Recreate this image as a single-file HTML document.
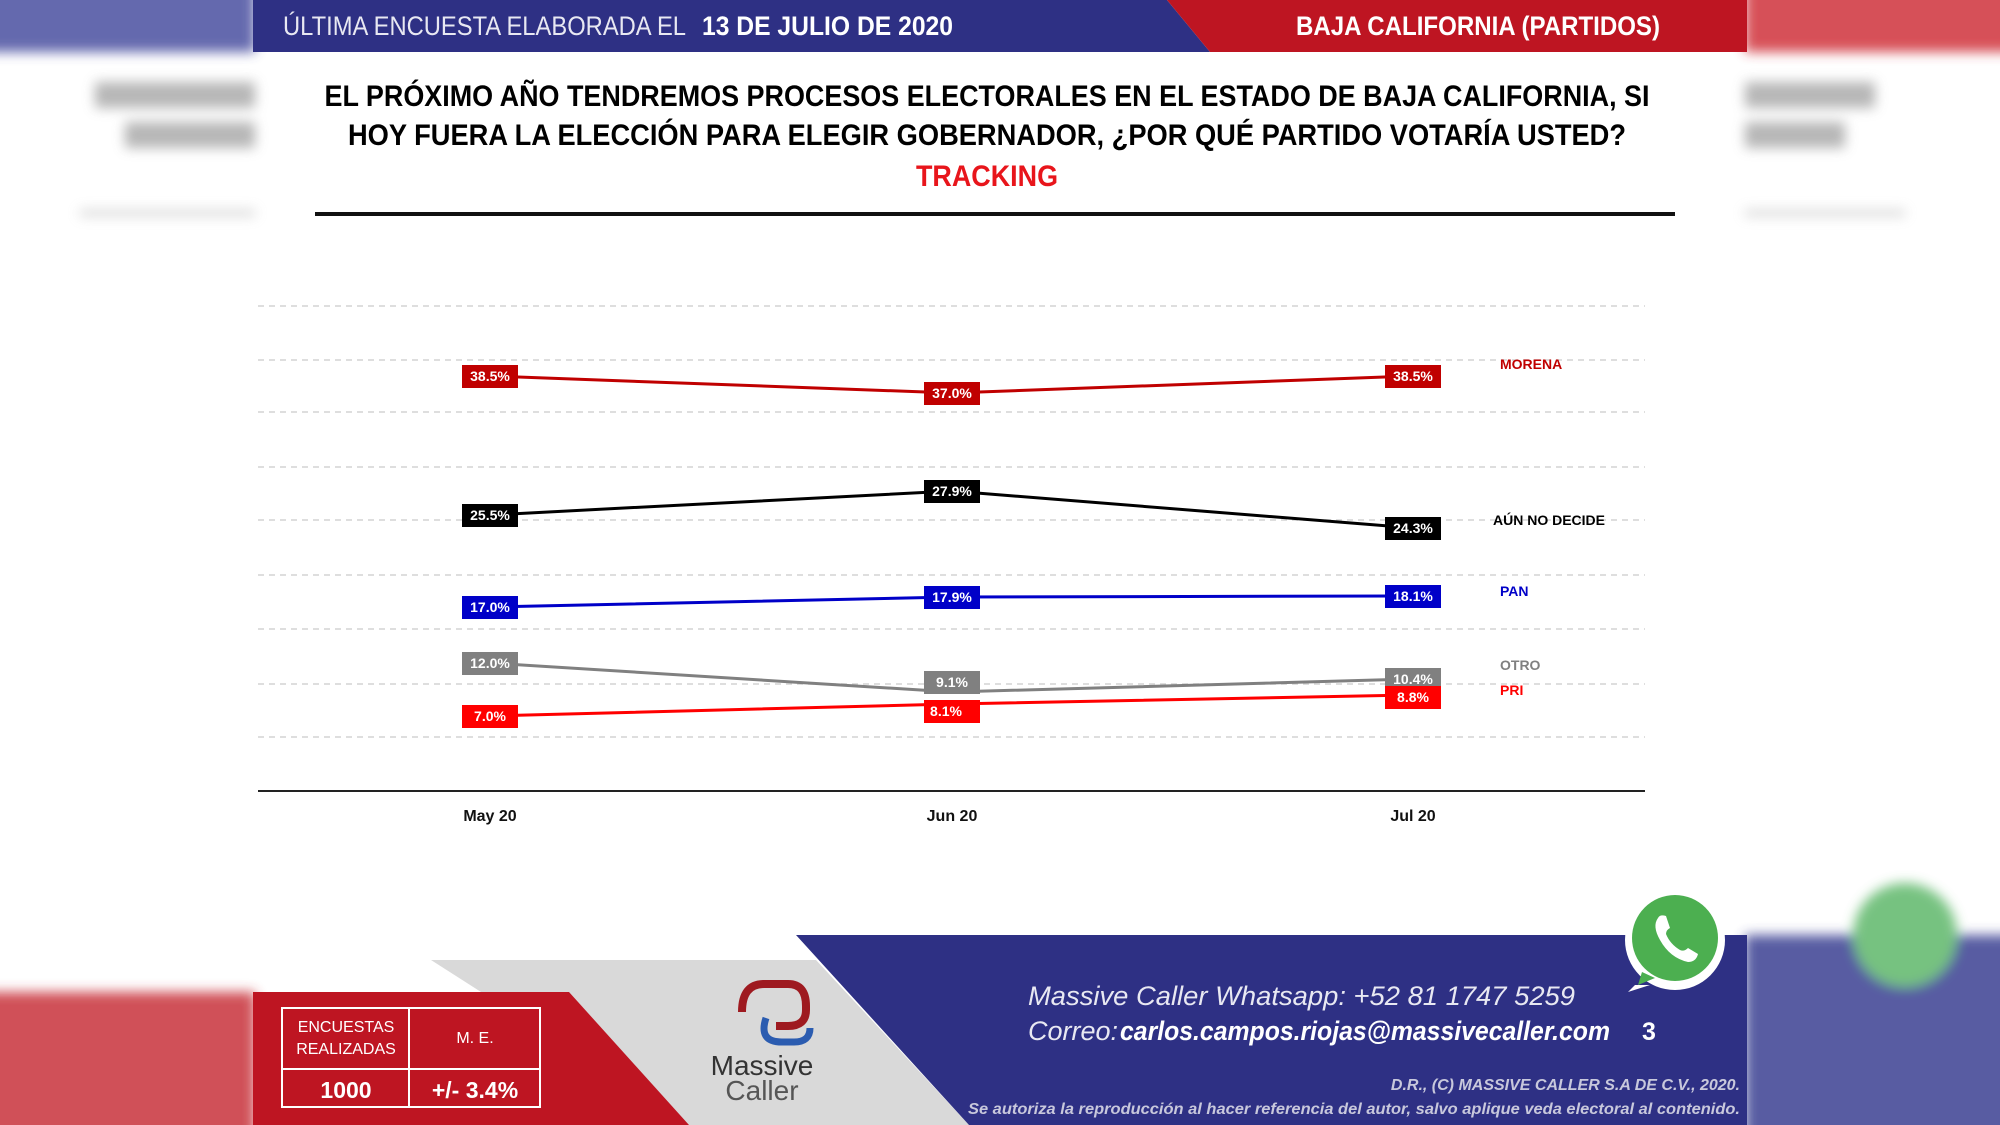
<!DOCTYPE html>
<html><head><meta charset="utf-8"><style>
html,body{margin:0;padding:0;background:#fff}
svg{display:block}
text{font-family:"Liberation Sans",sans-serif}
</style></head><body>
<svg width="2000" height="1125" viewBox="0 0 2000 1125" xmlns="http://www.w3.org/2000/svg">
<defs>
<filter id="bl"><feGaussianBlur stdDeviation="6"/></filter>
</defs>
<rect width="2000" height="1125" fill="#fff"/>
<g filter="url(#bl)" opacity="0.85">
<rect x="-20" y="-20" width="275" height="72" fill="#4a50a0"/>
<rect x="-20" y="992" width="275" height="160" fill="#c8303a"/>
<rect x="1745" y="-20" width="280" height="72" fill="#d0303a"/>
<rect x="1745" y="935" width="280" height="210" fill="#3a3f92"/>
<rect x="95" y="82" width="160" height="26" fill="#aaa"/>
<rect x="125" y="122" width="130" height="26" fill="#aaa"/>
<rect x="1745" y="82" width="130" height="26" fill="#aaa"/>
<rect x="1745" y="122" width="100" height="26" fill="#aaa"/>
<rect x="80" y="210" width="175" height="6" fill="#ccc"/>
<rect x="1745" y="210" width="160" height="6" fill="#ccc"/>
<circle cx="1905" cy="935" r="52" fill="#5fb86a"/>
</g>
<polygon points="253,0 1167,0 1210,52 253,52" fill="#2e3084"/>
<polygon points="1167,0 1747,0 1747,52 1210,52" fill="#be1522"/>
<text x="283" y="35" font-size="27" fill="#e8e8f2" textLength="403" lengthAdjust="spacingAndGlyphs">ÚLTIMA ENCUESTA ELABORADA EL</text>
<text x="702" y="35" font-size="27" font-weight="bold" fill="#fff" textLength="251" lengthAdjust="spacingAndGlyphs">13 DE JULIO DE 2020</text>
<text x="1296" y="35" font-size="27" font-weight="bold" fill="#fff" textLength="364" lengthAdjust="spacingAndGlyphs">BAJA CALIFORNIA (PARTIDOS)</text>
<g font-weight="bold" font-size="30" text-anchor="middle">
<text x="987" y="106" fill="#000" textLength="1325" lengthAdjust="spacingAndGlyphs">EL PRÓXIMO AÑO TENDREMOS PROCESOS ELECTORALES EN EL ESTADO DE BAJA CALIFORNIA, SI</text>
<text x="987" y="145" fill="#000" textLength="1278" lengthAdjust="spacingAndGlyphs">HOY FUERA LA ELECCIÓN PARA ELEGIR GOBERNADOR, ¿POR QUÉ PARTIDO VOTARÍA USTED?</text>
<text x="987" y="186" fill="#e8151b" textLength="142" lengthAdjust="spacingAndGlyphs">TRACKING</text>
</g>
<rect x="315" y="212" width="1360" height="4" fill="#111"/>
<g stroke="#d4d4d4" stroke-width="1.5" stroke-dasharray="6,5">
<line x1="258" x2="1645" y1="306" y2="306"/><line x1="258" x2="1645" y1="360" y2="360"/>
<line x1="258" x2="1645" y1="412" y2="412"/><line x1="258" x2="1645" y1="467" y2="467"/>
<line x1="258" x2="1645" y1="520" y2="520"/><line x1="258" x2="1645" y1="575" y2="575"/>
<line x1="258" x2="1645" y1="629" y2="629"/><line x1="258" x2="1645" y1="684" y2="684"/>
<line x1="258" x2="1645" y1="737" y2="737"/>
</g>
<line x1="258" x2="1645" y1="791" y2="791" stroke="#222" stroke-width="2"/>
<g font-size="16" font-weight="bold" text-anchor="middle" fill="#111">
<text x="490" y="821">May 20</text><text x="952" y="821">Jun 20</text><text x="1413" y="821">Jul 20</text>
</g>
<g fill="none" stroke-width="3">
<polyline points="490,376 952,393 1413,376" stroke="#c00000"/>
<polyline points="490,515 952,491 1413,528" stroke="#000"/>
<polyline points="490,607 952,597 1413,596" stroke="#0000c8"/>
<polyline points="490,663 952,692 1413,679" stroke="#808080"/>
<polyline points="490,716 952,704 1413,695" stroke="#ff0000"/>
</g>
<g font-size="14" font-weight="bold" text-anchor="middle" fill="#fff">
<rect x="462" y="365" width="56" height="23" fill="#c00000"/><text x="490" y="381">38.5%</text>
<rect x="924" y="382" width="56" height="23" fill="#c00000"/><text x="952" y="398">37.0%</text>
<rect x="1385" y="365" width="56" height="23" fill="#c00000"/><text x="1413" y="381">38.5%</text>
<rect x="462" y="504" width="56" height="23" fill="#000"/><text x="490" y="520">25.5%</text>
<rect x="924" y="480" width="56" height="23" fill="#000"/><text x="952" y="496">27.9%</text>
<rect x="1385" y="517" width="56" height="23" fill="#000"/><text x="1413" y="533">24.3%</text>
<rect x="462" y="596" width="56" height="23" fill="#0000c8"/><text x="490" y="612">17.0%</text>
<rect x="924" y="586" width="56" height="23" fill="#0000c8"/><text x="952" y="602">17.9%</text>
<rect x="1385" y="585" width="56" height="23" fill="#0000c8"/><text x="1413" y="601">18.1%</text>
<rect x="462" y="652" width="56" height="23" fill="#808080"/><text x="490" y="668">12.0%</text>
<rect x="924" y="671" width="56" height="23" fill="#808080"/><text x="952" y="687">9.1%</text>
<rect x="1385" y="668" width="56" height="23" fill="#808080"/><text x="1413" y="684">10.4%</text>
<rect x="462" y="705" width="56" height="23" fill="#ff0000"/><text x="490" y="721">7.0%</text>
<rect x="924" y="700" width="56" height="23" fill="#ff0000"/><text x="946" y="716">8.1%</text>
<rect x="1385" y="686" width="56" height="23" fill="#ff0000"/><text x="1413" y="702">8.8%</text>
</g>
<g font-size="14" font-weight="bold">
<text x="1500" y="369" fill="#c00000">MORENA</text>
<text x="1493" y="525" fill="#000">AÚN NO DECIDE</text>
<text x="1500" y="596" fill="#0000c8">PAN</text>
<text x="1500" y="670" fill="#808080">OTRO</text>
<text x="1500" y="695" fill="#ff0000">PRI</text>
</g>
<polygon points="431,960 816,960 969,1125 689,1125" fill="#d9d9d9"/>
<polygon points="253,992 569,992 689,1125 253,1125" fill="#be1522"/>
<polygon points="796,935 1747,935 1747,1125 969,1125" fill="#2e3084"/>
<g stroke="#fff" stroke-width="2" fill="none">
<rect x="282" y="1008" width="258" height="99"/>
<line x1="409" y1="1008" x2="409" y2="1107"/>
<line x1="282" y1="1069" x2="540" y2="1069"/>
</g>
<g fill="#fff" text-anchor="middle">
<text x="346" y="1032" font-size="16">ENCUESTAS</text>
<text x="346" y="1054" font-size="16">REALIZADAS</text>
<text x="475" y="1043" font-size="16">M. E.</text>
<text x="346" y="1098" font-size="23" font-weight="bold">1000</text>
<text x="475" y="1098" font-size="23" font-weight="bold">+/- 3.4%</text>
</g>
<path d="M742,1012 q0,-28 22,-28 h24 q18,0 18,22 v4 q0,16 -18,16 h-12" fill="none" stroke="#9e1a20" stroke-width="8"/>
<path d="M766,1018 q-8,24 16,24 h12 q16,0 16,-14" fill="none" stroke="#2b5cb0" stroke-width="7"/>
<text x="762" y="1075" font-size="28" text-anchor="middle" fill="#333">Massive</text>
<text x="762" y="1100" font-size="28" text-anchor="middle" fill="#555">Caller</text>
<circle cx="1675" cy="940" r="50" fill="#fff"/>
<polygon points="1635,985 1628,992 1650,985" fill="#fff"/>
<circle cx="1675" cy="938" r="43" fill="#4caf50"/>
<polygon points="1642,972 1638,985 1655,978" fill="#4caf50"/>
<path d="M1658,918 q-6,8 2,22 q10,18 28,22 q8,0 10,-8 l-10,-6 q-4,4 -8,2 q-10,-6 -14,-16 q0,-4 4,-6 l-4,-12 q-6,-2 -8,2z" fill="#fff"/>
<g fill="#e8e8f2" font-style="italic" font-size="27">
<text x="1028" y="1005" textLength="547" lengthAdjust="spacingAndGlyphs">Massive Caller Whatsapp:  +52 81 1747 5259</text>
<text x="1028" y="1040">Correo: </text>
<text x="1120" y="1040" font-weight="bold" fill="#fff" textLength="490" lengthAdjust="spacingAndGlyphs">carlos.campos.riojas@massivecaller.com</text>
</g>
<text x="1642" y="1040" font-size="25" font-weight="bold" fill="#fff">3</text>
<g fill="#c8c8dc" font-style="italic" font-weight="bold" font-size="16" text-anchor="end">
<text x="1740" y="1090">D.R., (C) MASSIVE CALLER S.A DE C.V., 2020.</text>
<text x="1740" y="1114" textLength="772" lengthAdjust="spacingAndGlyphs">Se autoriza la reproducción al hacer referencia del autor, salvo aplique veda electoral al contenido.</text>
</g>
</svg>
</body></html>
